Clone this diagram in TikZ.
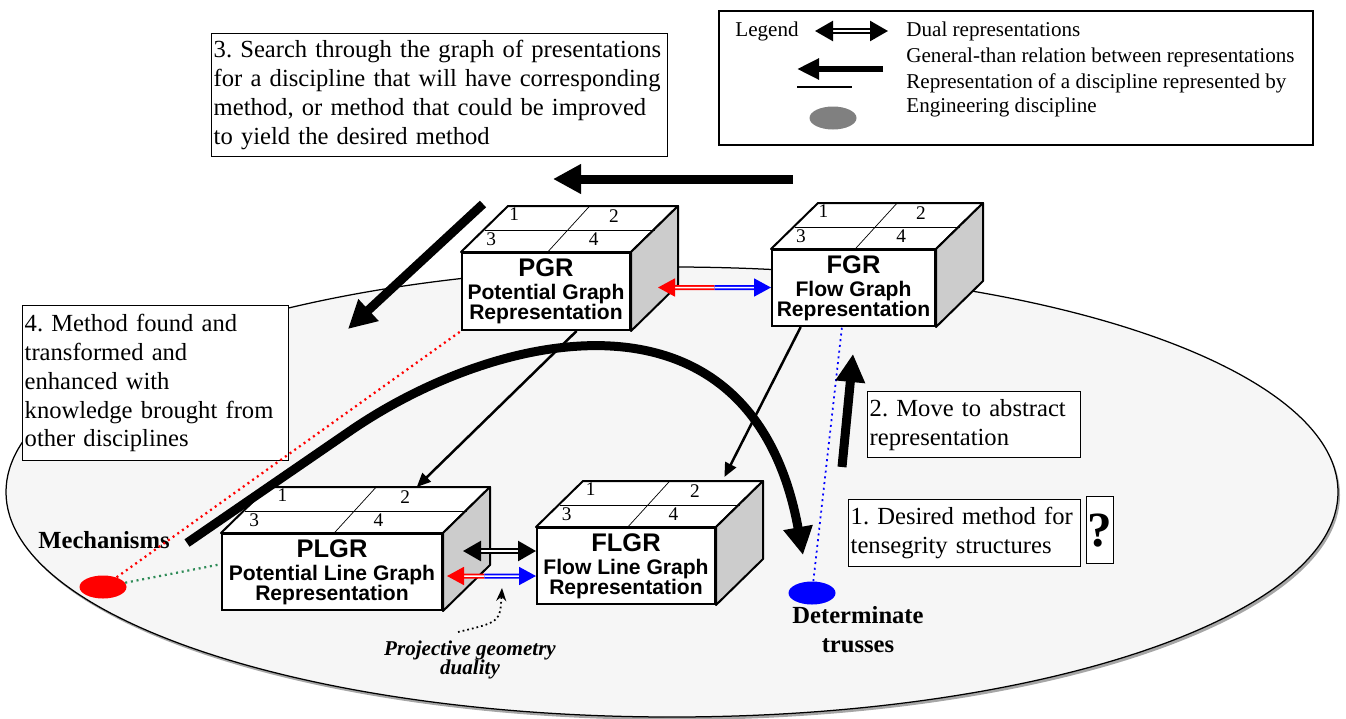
\documentclass[tikz,border=0pt]{standalone}
\usepackage{fontspec}
\setmainfont{Liberation Serif}
\setsansfont{Liberation Sans}
\usetikzlibrary{arrows.meta,calc,shapes.geometric}
\frenchspacing

\definecolor{planegray}{gray}{0.965}
\definecolor{sidegray}{gray}{0.8}
\definecolor{discgray}{gray}{0.5}
\definecolor{dotgreen}{RGB}{46,139,87}

\tikzset{
  textbox/.style={draw, line width=0.28mm, fill=white, inner xsep=0.4mm, inner ysep=0mm,
    align=left, anchor=north west, font=\fontsize{14}{16.4}\selectfont},
  face/.style={draw, line width=0.4mm, fill=white, inner sep=0, align=center,
    font=\sffamily\bfseries\fontsize{12}{11.5}\selectfont},
  cubeline/.style={line width=0.4mm, line join=round},
  digit/.style={inner sep=0, font=\fontsize{11}{11}\selectfont},
  bigarrow/.style={line width=1.8mm, line join=round, -{Triangle[length=5.6mm,width=5.6mm]}},
  genarrow/.style={line width=0.5mm, -{Triangle[length=2.8mm,width=2.4mm]}},
  dualhalf/.style={double=white, double distance=0.3mm, line width=0.35mm, -{Triangle[length=3.4mm,width=3.6mm]}},
  dualboth/.style={double=white, double distance=0.35mm, line width=0.5mm,
    {Triangle[length=3.6mm,width=4mm]}-{Triangle[length=3.6mm,width=4mm]}},
  disc/.style={ellipse, inner sep=0, minimum width=9.4mm, minimum height=4.6mm},
  discname/.style={align=center, inner sep=0, font=\bfseries\fontsize{14}{16.4}\selectfont},
  linkdots/.style={line width=0.45mm, dash pattern=on 0.4mm off 0.75mm},
  legendtext/.style={anchor=west, inner sep=0, font=\fontsize{12}{14}\selectfont}
}

% cube: name, centre, width, height, text
\newcommand{\repcube}[5]{%
  \node[face, minimum width=#3, minimum height=#4] (#1) at #2 {#5};
  \filldraw[cubeline, fill=white] (#1.north west) -- ++(47,-46) -- ([shift={(47,-46)}]#1.north east) -- (#1.north east) -- cycle;
  \filldraw[cubeline, fill=sidegray] (#1.north east) -- ++(47,-46) -- ([shift={(47,-46)}]#1.south east) -- (#1.south east) -- cycle;
  \draw[thin] ([shift={(24,-22)}]#1.north west) -- ([shift={(24,-22)}]#1.north east);
  \draw[thin] ($(#1.north west)!.51!(#1.north east)$) -- ++(42,-46);
  \node[digit] (#1-1) at ($(#1.north west)!.16!(#1.north east)+(26,-38)$) {1};
  \node[digit] (#1-2) at ($(#1.north west)!.6!(#1.north east)+(51,-36)$) {2};
  \node[digit] (#1-3) at ($(#1.north west)!.06!(#1.north east)+(20,-13)$) {3};
  \node[digit] (#1-4) at ($(#1.north west)!.48!(#1.north east)+(51,-13)$) {4};
}

\begin{document}
\begin{tikzpicture}[x=0.2mm, y=-0.2mm]
\useasboundingbox (0,0) rectangle (1346,718);
%draw plane of disciplines
\fill[discgray!70] (674,495) ellipse [x radius=666, y radius=225];
\filldraw[line width=0.25mm, fill=planegray] (672,492) ellipse [x radius=666, y radius=225];

%draw legend
\node[draw, line width=0.35mm, minimum width=118.8mm, minimum height=26.8mm, anchor=north west, inner sep=0] (legend) at (718,10) {};
\node[legendtext] (lglabel) at (735,31) {Legend};
\node[legendtext] (lgdual) at (906,31) {Dual representations};
\node[legendtext] (lggen) at (906,57) {General-than relation between representations};
\node[legendtext] (lgrep) at (906,83) {Representation of a discipline represented by};
\node[legendtext] (lgeng) at (906,107) {Engineering discipline};
\coordinate (lgd1) at (815,31); \coordinate (lgd2) at (888,31);
\coordinate (lgg1) at (883,69); \coordinate (lgg2) at (797,69);
\coordinate (lgr1) at (797,87); \coordinate (lgr2) at (852,87);
\draw[dualboth] (lgd1) -- (lgd2);
\draw[line width=1.2mm, -{Triangle[length=4.4mm,width=4mm]}] (lgg1) -- (lgg2);
\draw[line width=0.3mm] (lgr1) -- (lgr2);
\node[disc, fill=discgray] (lgdisc) at (833,118) {};

%draw step boxes
\node[textbox, text width=90.4mm, minimum height=24.6mm] (search) at (211,33) {3. Search through the graph of presentations\\for a discipline that will have corresponding\\method, or method that could be improved\\to yield the desired method};
\node[textbox, text width=52.4mm, minimum height=31mm] (found) at (22,305) {4. Method found and\\transformed and\\enhanced with\\knowledge brought from\\other disciplines};
\node[textbox, text width=41.8mm, minimum height=13.2mm] (move) at (867,391) {2. Move to abstract\\representation};
\node[textbox, text width=45.6mm, minimum height=13.4mm] (desired) at (848,499) {1. Desired method for\\tensegrity structures};
\node[textbox, inner sep=0, minimum width=5.4mm, minimum height=13.4mm, align=center, font=\bfseries\fontsize{28}{28}\selectfont] (query) at (1086,496) {?};

%draw step arrows
\coordinate (s3tail) at (793,179); \coordinate (s3head) at (553,179);
\coordinate (s4tail) at (483,204); \coordinate (s4head) at (348,329);
\coordinate (s2tail) at (842,467); \coordinate (s2head) at (853,354);
\draw[bigarrow] (s3tail) -- (s3head);
\draw[bigarrow] (s4tail) -- (s4head);

%draw cubes
\repcube{pgr}{(546,291.5)}{33.6mm}{15.4mm}{{\fontsize{14.5}{14.5}\selectfont PGR}\\[1.5pt]Potential Graph\\Representation}
\repcube{fgr}{(853.5,288)}{32.6mm}{15.2mm}{{\fontsize{14.5}{14.5}\selectfont FGR}\\[1.5pt]Flow Graph\\Representation}
\repcube{plgr}{(332,572)}{44mm}{15.2mm}{{\fontsize{14.5}{14.5}\selectfont PLGR}\\[1.5pt]Potential Line Graph\\Representation}
\repcube{flgr}{(626,566)}{35.6mm}{15.2mm}{{\fontsize{14.5}{14.5}\selectfont FLGR}\\[1.5pt]Flow Line Graph\\Representation}

%draw general-than relations
\draw[genarrow] ($(pgr.south west)!.68!(pgr.south east)$) -- ($(plgr.north west)!.67!(plgr.north east)+(47,-46)$);
\draw[genarrow] ($(fgr.south west)!.18!(fgr.south east)$) -- ($(flgr.north west)!.78!(flgr.north east)+(48,-50)$);

%draw dual representations
\coordinate (pgrdual) at ([shift={(27,-4)}]pgr.east);
\coordinate (topmid) at ($(pgrdual)!.5!(fgr.west |- pgrdual)$);
\draw[dualhalf, red] (topmid) -- (pgrdual);
\draw[dualhalf, blue] (topmid) -- (fgr.west |- pgrdual);
\coordinate (plgrblack) at ([shift={(20,-21)}]plgr.east);
\draw[dualboth] (plgrblack) -- (flgr.west |- plgrblack);
\coordinate (plgrdual) at ([shift={(4,4)}]plgr.east);
\coordinate (lowmid) at ($(plgrdual)!.42!(flgr.west |- plgrdual)$);
\draw[dualhalf, red] (lowmid) -- (plgrdual);
\draw[dualhalf, blue] (lowmid) -- (flgr.west |- plgrdual);

%draw disciplines
\node[disc, fill=red] (mechdisc) at (103,587) {};
\node[disc, fill=blue] (trussdisc) at (812,593) {};
\node[discname] (mechname) at (104,540) {Mechanisms};
\node[discname] (trussname) at (858,630) {Determinate\\trusses};
\draw[linkdots, red] (mechdisc) -- (pgr.south west);
\draw[linkdots, dotgreen] (mechdisc) -- ($(plgr.north west)!.4!(plgr.south west)$);
\draw[linkdots, blue, line width=0.35mm] (trussdisc) -- ($(fgr.south west)!.43!(fgr.south east)$);

%draw method transfer
\coordinate (curvestart) at (187,543); \coordinate (curvebend) at (350,431);
\coordinate (curveend) at (803,555);
\draw[bigarrow] (curvestart) -- (curvebend) .. controls (500,328) and (752,275) .. (curveend);
\draw[bigarrow] (s2tail) -- (s2head);

%draw duality note
\node[inner sep=0, align=center, font=\bfseries\itshape\fontsize{12}{11}\selectfont] (projname) at (470,660) {Projective geometry\\duality};
\coordinate (projtail) at (458,632); \coordinate (dualpt) at (502,588);
\draw[line width=0.35mm, dash pattern=on 0.35mm off 0.6mm, -{Stealth[length=2.6mm,width=2mm]}] (projtail) .. controls (500,622) .. (dualpt);
\end{tikzpicture}
\end{document}
